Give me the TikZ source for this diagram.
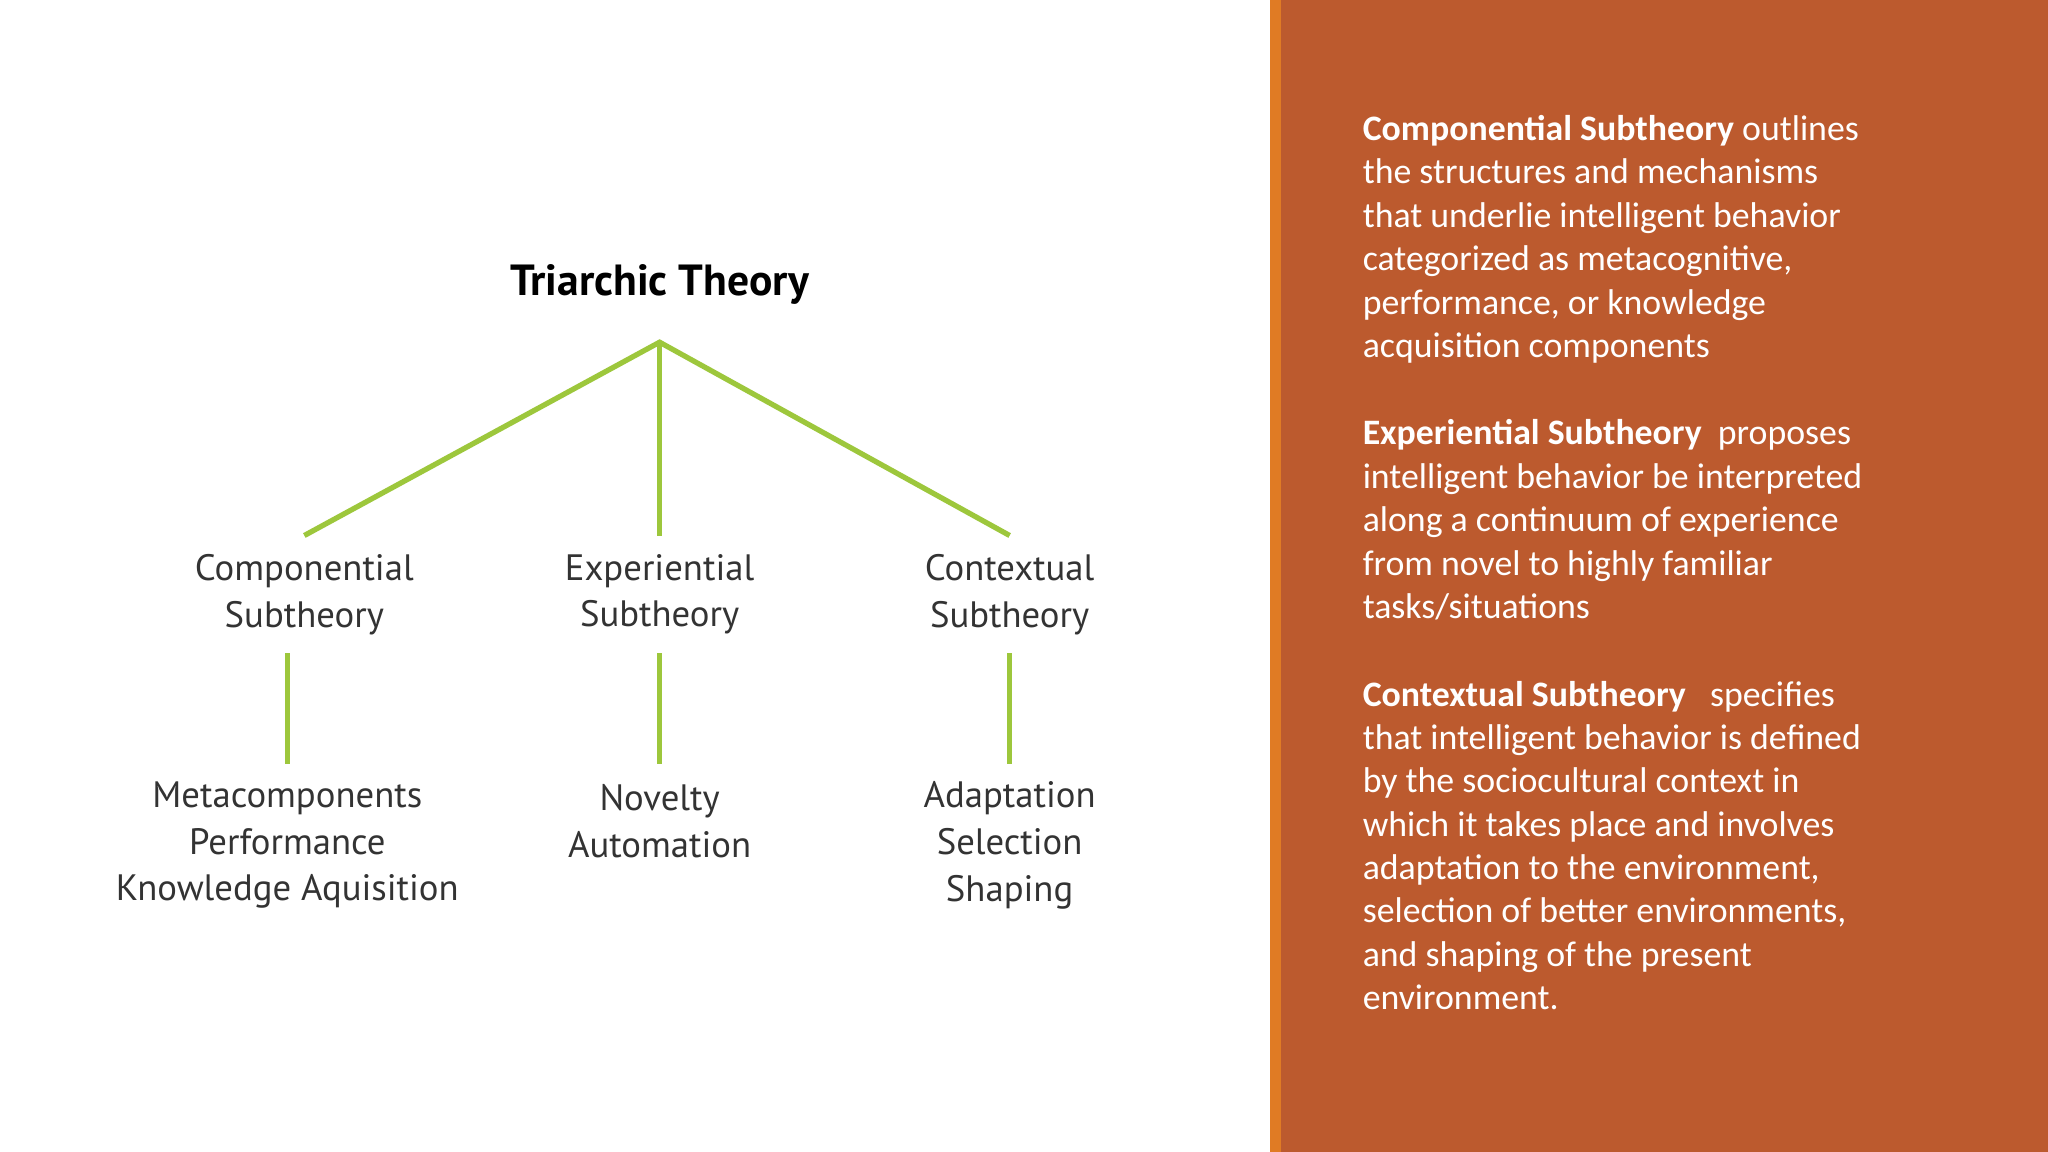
\documentclass[tikz,border=0pt]{standalone}
\usepackage{fontspec}
\setmainfont{Carlito}
\newfontfamily\diagfont{PT Sans}
\definecolor{panel}{HTML}{BC5A2E}
\definecolor{stripe}{HTML}{E07B24}
\definecolor{leaf}{HTML}{9DC73C}
\definecolor{ink}{HTML}{333333}
\begin{document}
\begin{tikzpicture}[x=0.02cm,y=-0.02cm,
  gline/.style={draw=leaf,line width=2.3pt},
  lbl/.style={font=\diagfont\fontsize{16}{20.4}\selectfont,text=ink,align=center,inner sep=0pt},
  para/.style={font=\fontsize{15.6}{18.9}\selectfont,text=white,align=left,anchor=north west,inner sep=0pt}]
\useasboundingbox (0,0) rectangle (1568,882);
\fill[white] (0,0) rectangle (1568,882);
\fill[stripe] (972,0) rectangle (981,882);
\fill[panel] (981,0) rectangle (1568,882);
\node[font=\diagfont\bfseries\fontsize{19}{22}\selectfont,text=black] (title) at (505,218) {Triarchic Theory};
\coordinate (apex) at (505,262);
\coordinate (c1) at (233,410);
\coordinate (c2) at (505,410);
\coordinate (c3) at (773,410);
\draw[gline] (c1) -- (apex) -- (c3);
\draw[gline] (apex) -- (c2);
\node[lbl] (s1) at (233,455) {Componential\\Subtheory};
\node[lbl] (s2) at (505,455) {Experiential\\Subtheory};
\node[lbl] (s3) at (773,455) {Contextual\\Subtheory};
\coordinate (v1a) at (220,500); \coordinate (v1b) at (220,585);
\coordinate (v2a) at (505,500); \coordinate (v2b) at (505,585);
\coordinate (v3a) at (773,500); \coordinate (v3b) at (773,585);
\draw[gline] (v1a) -- (v1b);
\draw[gline] (v2a) -- (v2b);
\draw[gline] (v3a) -- (v3b);
\node[lbl] (l1) at (220,647) {Metacomponents\\Performance\\Knowledge Aquisition};
\node[lbl] (l2) at (505,629) {Novelty\\Automation};
\node[lbl] (l3) at (773,647) {Adaptation\\Selection\\Shaping};
\node[para] (p1) at (1043,88) {\textbf{Componential Subtheory} outlines\\the structures and mechanisms\\that underlie intelligent behavior\\categorized as metacognitive,\\performance, or knowledge\\acquisition components};
\node[para] (p2) at (1043,321) {\textbf{Experiential Subtheory}\ \ proposes\\intelligent behavior be interpreted\\along a continuum of experience\\from novel to highly familiar\\tasks/situations};
\node[para] (p3) at (1043,521) {\textbf{Contextual Subtheory}\ \ \ specifies\\that intelligent behavior is defined\\by the sociocultural context in\\which it takes place and involves\\adaptation to the environment,\\selection of better environments,\\and shaping of the present\\environment.};
\end{tikzpicture}
\end{document}
